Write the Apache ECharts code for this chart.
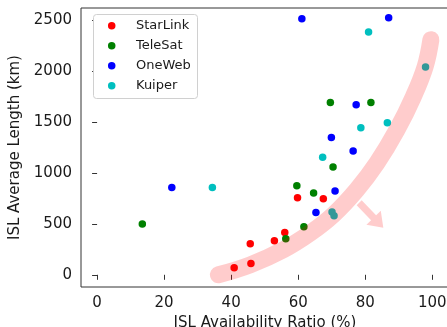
<!DOCTYPE html>
<html>
<head>
<meta charset="utf-8">
<script src="https://cdn.jsdelivr.net/npm/echarts@6/dist/echarts.min.js"></script>
<style>
  html, body { margin: 0; padding: 0; background: #fff; }
  #chart { width: 447px; height: 327px; }
</style>
</head>
<body>
<div id="chart"></div>
<script>
// Tick positions
const xTicks = [0, 20, 40, 60, 80, 100];
const yTicks = [0, 500, 1000, 1500, 2000, 2500];

// [availability ratio (%), average ISL length (km)] per constellation
const starlink = [[40.9, 69], [45.9, 111], [45.7, 305], [52.9, 334], [56.0, 416], [59.8, 757], [67.5, 747]];
const telesat = [[13.5, 498], [56.3, 354], [61.7, 472], [59.6, 875], [64.6, 803], [70.4, 1059], [69.6, 1694], [81.7, 1694]];
const oneweb = [[22.3, 859], [65.3, 613], [71.0, 823], [76.4, 1216], [69.9, 1350], [77.3, 1672], [61.1, 2517], [87.0, 2527]];
const kuiper = [[34.4, 859], [67.3, 1154], [70.1, 616], [70.7, 580], [78.7, 1445], [86.6, 1494], [98.0, 2042], [81.0, 2386]];

const constellations = [
  { name: 'StarLink', data: starlink, color: '#ff0000' },
  { name: 'TeleSat', data: telesat, color: '#008000' },
  { name: 'OneWeb', data: oneweb, color: '#0000ff' },
  { name: 'Kuiper', data: kuiper, color: '#00bfbf' }
];

// Trend band (centre line) and the arrow pointing to the better region
const trendBand = [[36.2, 0], [45.7, 98], [55.6, 246], [63.6, 410], [70.5, 590], [77.5, 836], [83.5, 1098], [89.5, 1426], [94.4, 1753], [97.9, 2048], [99.6, 2311]];
const arrowFrom = [78.2, 708];
const arrowTo = [85.4, 462];

const FONT = 'DejaVu Sans';
const INK = '#1a1a1a';
const HIGHLIGHT = 'rgba(255,0,0,0.2)';

const chart = echarts.init(document.getElementById('chart'), null, { renderer: 'canvas' });

const option = {
  animation: false,
  backgroundColor: '#fff',
  grid: {
    left: 81, top: 8, width: 368, height: 279,
    outerBoundsMode: 'none',
    containLabel: false,
    show: true, borderColor: '#333', borderWidth: 1, backgroundColor: 'transparent'
  },
  xAxis: {
    type: 'value',
    min: -4.8, max: 105,
    name: 'ISL Availability Ratio (%)',
    nameLocation: 'middle',
    nameGap: 29,
    nameTextStyle: { fontFamily: FONT, fontSize: 15, color: INK },
    axisLine: { show: false },
    splitLine: { show: false },
    axisTick: { show: true, length: 5, lineStyle: { color: '#333', width: 1 }, customValues: xTicks },
    axisLabel: { margin: 9, fontFamily: FONT, fontSize: 15, color: INK, customValues: xTicks, formatter: v => String(v) }
  },
  yAxis: {
    type: 'value',
    min: -120, max: 2622,
    name: 'ISL Average Length (km)',
    nameLocation: 'middle',
    nameGap: 56,
    nameTextStyle: { fontFamily: FONT, fontSize: 15, color: INK },
    axisLine: { show: false },
    splitLine: { show: false },
    axisTick: { show: true, length: 5, lineStyle: { color: '#333', width: 1 }, customValues: yTicks },
    axisLabel: { margin: 9, fontFamily: FONT, fontSize: 15, color: INK, customValues: yTicks, formatter: v => String(v) }
  },
  series: constellations.map(c => ({
    name: c.name,
    type: 'scatter',
    data: c.data,
    symbol: 'circle',
    symbolSize: 7.5,
    itemStyle: { color: c.color, opacity: 1 },
    z: 2
  })).concat([{
    name: 'trend',
    type: 'line',
    data: trendBand,
    smooth: 0.4,
    showSymbol: false,
    silent: true,
    lineStyle: { color: HIGHLIGHT, width: 17, cap: 'round', join: 'round' },
    z: 10
  }])
};

chart.setOption(option);

// Arrow drawn in pixel space from its two data-space anchors
function arrowPolygon(from, to) {
  const a = chart.convertToPixel({ gridIndex: 0 }, from);
  const b = chart.convertToPixel({ gridIndex: 0 }, to);
  const dx = b[0] - a[0], dy = b[1] - a[1];
  const len = Math.hypot(dx, dy);
  const ux = dx / len, uy = dy / len;
  const nx = -uy, ny = ux;
  const headLen = 14, headHalf = 10, shaftHalf = 3.5;
  const bx = b[0] - ux * headLen, by = b[1] - uy * headLen;
  return [
    [a[0] + nx * shaftHalf, a[1] + ny * shaftHalf],
    [bx + nx * shaftHalf, by + ny * shaftHalf],
    [bx + nx * headHalf, by + ny * headHalf],
    [b[0], b[1]],
    [bx - nx * headHalf, by - ny * headHalf],
    [bx - nx * shaftHalf, by - ny * shaftHalf],
    [a[0] - nx * shaftHalf, a[1] - ny * shaftHalf]
  ];
}

// Legend box: marker + label per constellation
const legendBox = { x: 93.5, y: 14.5, w: 104, h: 84, rowY: 25.7, rowStep: 20, markerX: 111.7, textX: 136 };
const legendItems = [{
  type: 'rect',
  shape: { x: legendBox.x, y: legendBox.y, width: legendBox.w, height: legendBox.h, r: 3 },
  style: { fill: '#fff', stroke: '#d0d0d0', lineWidth: 1 },
  silent: true,
  z: 20
}];
constellations.forEach((c, i) => {
  const cy = legendBox.rowY + i * legendBox.rowStep;
  legendItems.push({
    type: 'circle',
    shape: { cx: legendBox.markerX, cy: cy, r: 3.75 },
    style: { fill: c.color },
    silent: true,
    z: 21
  });
  legendItems.push({
    type: 'text',
    x: legendBox.textX, y: cy,
    style: { text: c.name, fill: INK, font: '13px "DejaVu Sans"', verticalAlign: 'middle', align: 'left' },
    silent: true,
    z: 21
  });
});

chart.setOption({
  graphic: [{
    type: 'polygon',
    shape: { points: arrowPolygon(arrowFrom, arrowTo) },
    style: { fill: HIGHLIGHT },
    silent: true,
    z: 10
  }].concat(legendItems)
});
</script>
</body>
</html>
